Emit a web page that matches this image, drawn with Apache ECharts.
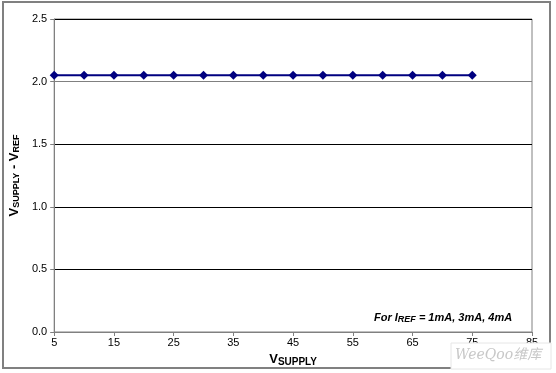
<!DOCTYPE html>
<html><head><meta charset="utf-8">
<script src="https://cdn.jsdelivr.net/npm/echarts@6/dist/echarts.min.js"></script>
<style>html,body{margin:0;padding:0;background:#fff}#c{width:556px;height:373px}</style>
</head><body><div id="c"></div>
<script>
const xCategories = ['5','10','15','20','25','30','35','40','45','50','55','60','65','70','75','80','85'];
const seriesValues = [2.05,2.05,2.05,2.05,2.05,2.05,2.05,2.05,2.05,2.05,2.05,2.05,2.05,2.05,2.05];
const yTicks = {min:0, max:2.5, interval:0.5};

const chart = echarts.init(document.getElementById('c'), null, {renderer:'canvas'});
const font = 'Liberation Sans, Arial, sans-serif';
chart.setOption({
  animation:false,
  backgroundColor:'#fff',
  grid:{left:52, right:24, top:19, bottom:41, show:true, borderColor:'#808080', borderWidth:1, backgroundColor:'#fff'},
  xAxis:{
    type:'category', data:xCategories, boundaryGap:false,
    axisLine:{lineStyle:{color:'#808080', width:1}},
    axisTick:{show:true, interval:1, length:4, lineStyle:{color:'#808080'}},
    axisLabel:{interval:1, color:'#000', fontFamily:font, fontSize:11, margin:5},
    splitLine:{show:false},
    name:'{a|V}{b|SUPPLY}', nameLocation:'middle', nameGap:20,
    nameTextStyle:{rich:{a:{fontFamily:font,fontSize:13,fontWeight:'bold',color:'#000'}, b:{fontFamily:font,fontSize:10,fontWeight:'bold',color:'#000',padding:[5,0,0,0]}}}
  },
  yAxis:{
    type:'value', min:yTicks.min, max:yTicks.max, interval:yTicks.interval,
    axisLine:{show:true, lineStyle:{color:'#808080'}},
    axisTick:{show:true, length:4, lineStyle:{color:'#808080'}},
    axisLabel:{color:'#000', fontFamily:font, fontSize:11, margin:7, formatter:v=>v.toFixed(1)},
    splitLine:{show:true, lineStyle:{color:['#808080','#000','#000','#000','#808080','#000'], width:1}},
    name:'{a|V}{b|SUPPLY}{a| - V}{b|REF}', nameLocation:'middle', nameGap:22, nameRotate:90,
    nameTextStyle:{rich:{a:{fontFamily:font,fontSize:13,fontWeight:'bold',color:'#000'}, b:{fontFamily:font,fontSize:9,fontWeight:'bold',color:'#000',padding:[4,0,0,0]}}}
  },
  series:[{
    type:'line', data:seriesValues, symbol:'diamond', symbolSize:9,
    lineStyle:{color:'#000080', width:2}, itemStyle:{color:'#000080'}
  }],
  graphic:[
    {type:'rect', shape:{x:3,y:2,width:547,height:366}, style:{fill:'none', stroke:'#808080', lineWidth:2}, z:-1},
    {type:'text', left:374, top:312, style:{
      text:'{i|For I}{s|REF}{i| = 1mA, 3mA, 4mA}',
      rich:{i:{fontFamily:font,fontSize:11,fontWeight:'bold',fontStyle:'italic',fill:'#000'}, s:{fontFamily:font,fontSize:9,fontWeight:'bold',fontStyle:'italic',fill:'#000',padding:[4,0,0,0]}}
    }},
    {type:'rect', shape:{x:451,y:343,width:100,height:26}, style:{fill:'#fff', stroke:'#e6e6e6', lineWidth:1}, z:10},
    {type:'text', left:455, top:348, z:11, style:{text:'WeeQoo维库', fontFamily:'DejaVu Serif, Noto Sans CJK SC, serif', fontStyle:'italic', fontSize:14, fill:'#c8c8c8'}}
  ]
});
</script></body></html>
